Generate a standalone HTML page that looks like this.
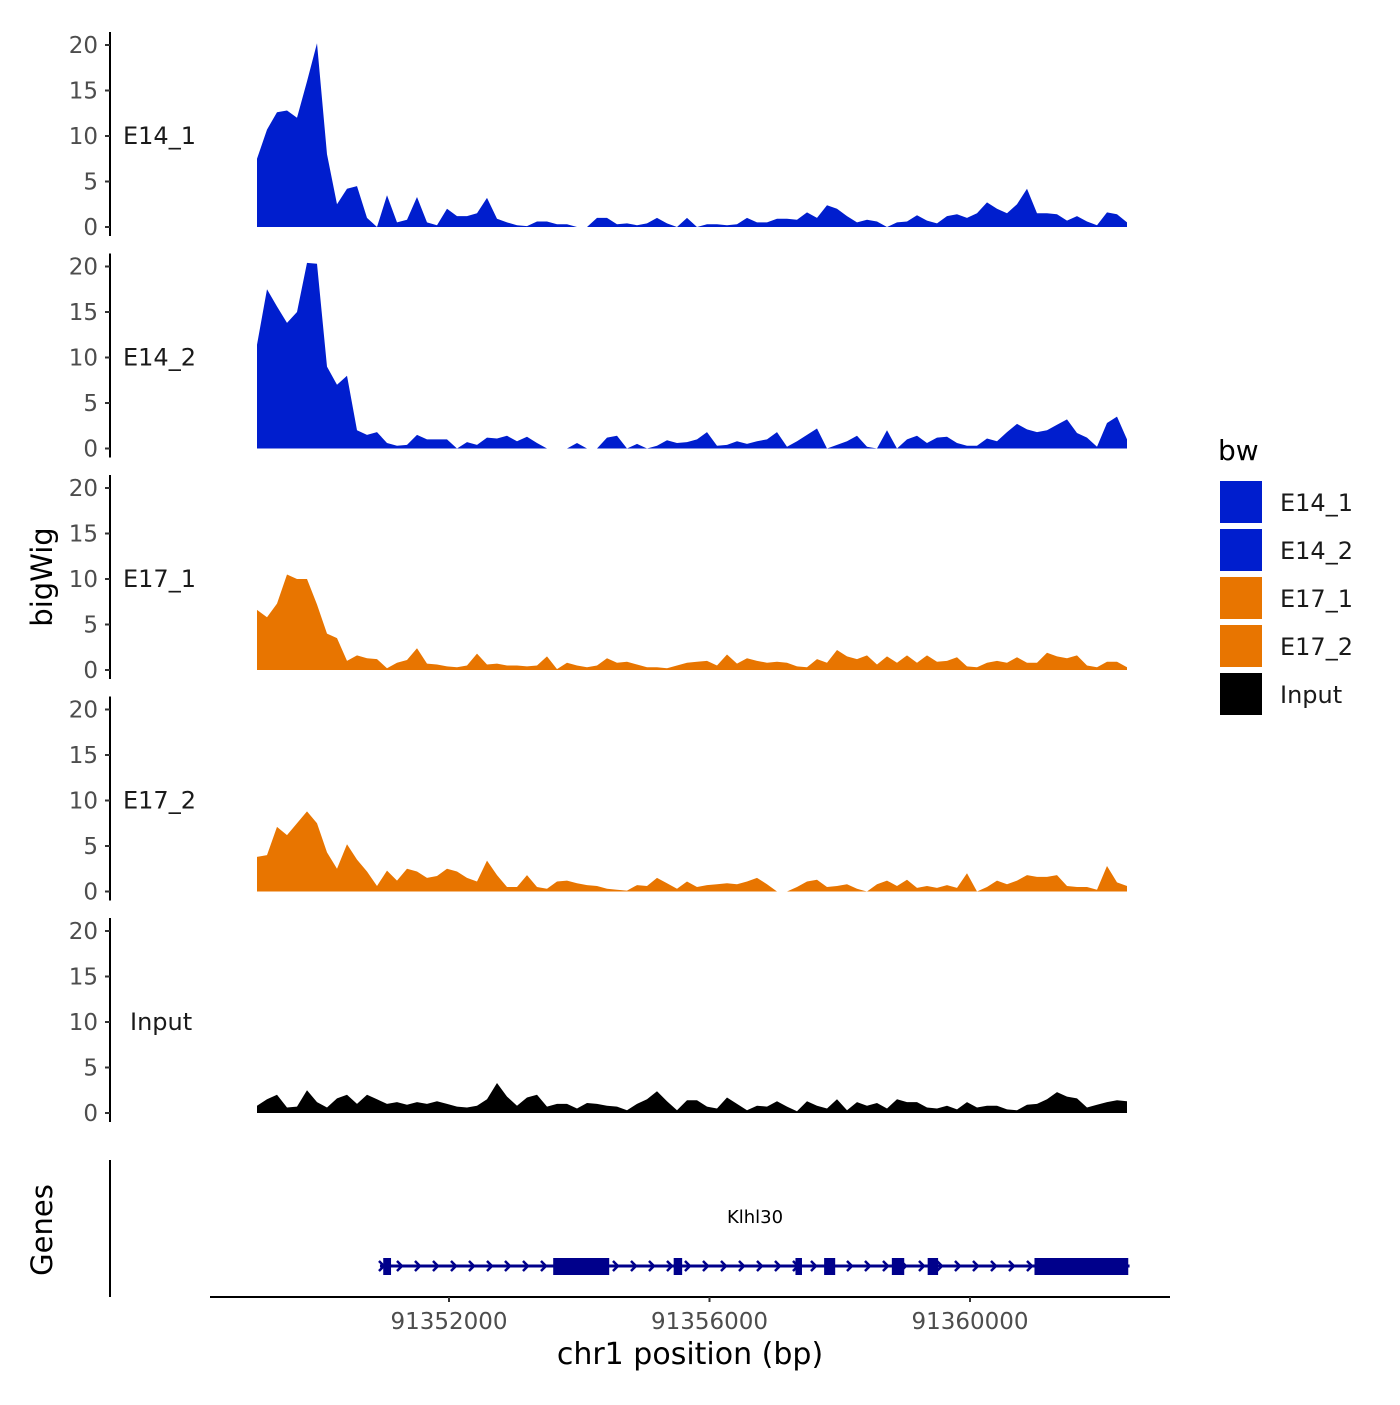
<!DOCTYPE html>
<html><head><meta charset="utf-8"><style>
body{margin:0;background:#fff}
svg text{font-family:"DejaVu Sans","Liberation Sans",sans-serif}
</style></head><body>
<svg id="chart" width="1400" height="1400" viewBox="0 0 1400 1400" xmlns="http://www.w3.org/2000/svg">
<rect width="1400" height="1400" fill="#fff"/>
<g id="panels"></g>
<g id="genes"></g>
<g id="xaxis"></g>
<g id="legend"></g>
<text x="0" y="0" transform="translate(52,577) rotate(-90)" text-anchor="middle" font-size="29" fill="#000">bigWig</text>
<text x="0" y="0" transform="translate(52,1230) rotate(-90)" text-anchor="middle" font-size="29" fill="#000">Genes</text>
<text x="690" y="1364" text-anchor="middle" font-size="30" fill="#000">chr1 position (bp)</text>
</svg>
<script>
const trackNames = ["E14_1","E14_2","E17_1","E17_2","Input"];
const trackColors = ["#001ECE","#001ECE","#E87500","#E87500","#000000"];
const startBp = 91349052;
const stepBp = 153.55;
const yTicks = [0,5,10,15,20];
const xTicks = [91352000,91356000,91360000];
const e14_1 = [7.5,10.7,12.6,12.8,12,16,20.2,8,2.5,4.2,4.5,1,0,3.5,0.5,0.8,3.3,0.5,0.2,2,1.2,1.2,1.5,3.2,0.9,0.5,0.2,0.1,0.6,0.6,0.3,0.3,0,0,1,1,0.3,0.4,0.2,0.4,1,0.4,0,1,0,0.3,0.3,0.2,0.3,1,0.5,0.5,0.9,0.9,0.8,1.6,1.0,2.4,2.0,1.2,0.5,0.8,0.6,0,0.5,0.6,1.3,0.7,0.4,1.2,1.4,1.0,1.5,2.7,2.0,1.5,2.5,4.2,1.5,1.5,1.4,0.7,1.2,0.6,0.2,1.6,1.4,0.5];
const e14_2 = [11.4,17.5,15.6,13.8,15,20.4,20.3,9,7,8,2,1.5,1.8,0.6,0.3,0.4,1.5,1.0,1.0,1.0,0,0.7,0.4,1.2,1.1,1.4,0.8,1.3,0.6,0,0,0,0.6,0,0,1.2,1.4,0,0.5,0,0.3,0.9,0.6,0.7,1.0,1.8,0.3,0.4,0.8,0.5,0.8,1.0,1.8,0.2,0.8,1.5,2.2,0,0.4,0.8,1.4,0.2,0,2.0,0,1.0,1.4,0.6,1.2,1.3,0.6,0.3,0.3,1.1,0.8,1.8,2.7,2.1,1.8,2.0,2.6,3.2,1.7,1.2,0.2,2.8,3.5,1.0];
const e17_1 = [6.6,5.8,7.3,10.5,10.0,10.0,7.2,4.0,3.5,1.0,1.6,1.3,1.2,0.2,0.8,1.1,2.4,0.7,0.6,0.4,0.3,0.5,1.8,0.6,0.7,0.5,0.5,0.4,0.5,1.5,0.1,0.8,0.5,0.3,0.5,1.3,0.8,0.9,0.6,0.3,0.3,0.2,0.5,0.8,0.9,1.0,0.5,1.7,0.7,1.3,1.0,0.8,0.9,0.8,0.4,0.3,1.2,0.8,2.2,1.5,1.2,1.6,0.6,1.5,0.8,1.6,0.8,1.6,0.9,1.0,1.4,0.4,0.3,0.8,1.0,0.8,1.4,0.8,0.8,1.9,1.5,1.3,1.6,0.5,0.3,0.9,0.9,0.3];
const e17_2 = [3.8,4.0,7.1,6.2,7.5,8.8,7.5,4.3,2.5,5.2,3.5,2.2,0.6,2.3,1.2,2.5,2.2,1.5,1.7,2.5,2.2,1.5,1.1,3.4,1.8,0.5,0.5,1.8,0.5,0.3,1.1,1.2,0.9,0.7,0.6,0.3,0.2,0.1,0.7,0.6,1.5,0.9,0.3,1.1,0.5,0.7,0.8,0.9,0.8,1.1,1.5,0.8,0,0,0.5,1.1,1.3,0.5,0.6,0.8,0.3,0,0.8,1.2,0.6,1.3,0.4,0.6,0.4,0.7,0.4,2.0,0,0.5,1.2,0.8,1.2,1.8,1.6,1.6,1.8,0.6,0.5,0.5,0.2,2.8,1.0,0.6];
const input = [0.8,1.5,2.0,0.6,0.7,2.5,1.2,0.6,1.6,2.0,1.0,2.0,1.5,1.0,1.2,0.9,1.2,1.0,1.3,1.0,0.7,0.6,0.8,1.5,3.3,1.8,0.8,1.7,2.0,0.7,1.0,1.0,0.5,1.1,1.0,0.8,0.7,0.3,1.0,1.5,2.4,1.3,0.3,1.4,1.4,0.7,0.5,1.7,1.0,0.3,0.8,0.7,1.3,0.7,0.2,1.3,0.8,0.5,1.5,0.3,1.2,0.8,1.1,0.5,1.5,1.2,1.2,0.6,0.5,0.8,0.4,1.2,0.6,0.8,0.8,0.4,0.3,0.9,1.0,1.5,2.3,1.8,1.6,0.6,0.9,1.2,1.4,1.3];
const seriesList = [e14_1,e14_2,e17_1,e17_2,input];
const geneExonStarts = [91350990,91353600,91355450,91357320,91357760,91358800,91359350,91360990];
const geneExonEnds   = [91351110,91354460,91355580,91357420,91357930,91358990,91359510,91362430];
const geneStart = 91350940, geneEnd = 91362450;

const NS="http://www.w3.org/2000/svg";
function el(tag,attrs,parent){const e=document.createElementNS(NS,tag);for(const k in attrs)e.setAttribute(k,attrs[k]);parent.appendChild(e);return e;}
function xScale(bp){return 449+(bp-91352000)*260.5/4000;}
function yScale(v,k){const base=227+221.5*k;return base-v*9.1;}

const panels=document.getElementById('panels');
seriesList.forEach((vals,k)=>{
  const g=el('g',{},panels);
  
  
  const ax=el('line',{x1:110,x2:110,y1:32+221.5*k,y2:236+221.5*k,stroke:'#000','stroke-width':2},g);
  
  
  yTicks.forEach(t=>{
    const y=yScale(t,k);
    const tk=el('line',{x1:105,x2:110,y1:y,y2:y,stroke:'#333','stroke-width':2},g);
    
    
    const tl=el('text',{x:98,y:y+8,'text-anchor':'end','font-size':23,fill:'#4d4d4d'},g);
    tl.textContent=t;
    
    
  });
  const base=yScale(0,k);
  let d='M'+xScale(startBp).toFixed(1)+','+base;
  vals.forEach((v,i)=>{d+=' L'+xScale(startBp+i*stepBp).toFixed(1)+','+yScale(v,k).toFixed(1);});
  d+=' L'+xScale(startBp+(vals.length-1)*stepBp).toFixed(1)+','+base+' Z';
  const area=el('path',{d:d,fill:trackColors[k],'stroke-linejoin':'round'},g);
  
  
  const lab=el('text',{x:trackNames[k]==='Input'?130:123,y:yScale(10,k)+8,'font-size':24,fill:'#1a1a1a'},g);
  lab.textContent=trackNames[k];
  
  
});

// genes
const gg=document.getElementById('genes');
const gax=el('line',{x1:110,x2:110,y1:1160,y2:1297,stroke:'#000','stroke-width':2},gg);


const gl=el('line',{x1:xScale(geneStart),x2:xScale(geneEnd),y1:1266,y2:1266,stroke:'#00008B','stroke-width':3},gg);


for(let x=xScale(geneStart)+2;x<xScale(geneEnd)-4;x+=18){
  const ch=el('path',{d:`M${x-3},1261 L${x+2},1266 L${x-3},1271`,fill:'none',stroke:'#00008B','stroke-width':2.5},gg);
  
  
}
geneExonStarts.forEach((s,i)=>{
  const x1=xScale(s),x2=xScale(geneExonEnds[i]);
  const r=el('rect',{x:x1,y:1258,width:x2-x1,height:17,fill:'#00008B'},gg);
  
  
});
const gn=el('text',{x:755,y:1223,'text-anchor':'middle','font-size':18,fill:'#000'},gg);
gn.textContent='Klhl30';



// x axis
const xa=document.getElementById('xaxis');
const xl=el('line',{x1:210,x2:1170,y1:1297,y2:1297,stroke:'#000','stroke-width':2},xa);


xTicks.forEach(t=>{
  const x=xScale(t);
  const tk=el('line',{x1:x,x2:x,y1:1297,y2:1302,stroke:'#333','stroke-width':2},xa);
  
  
  const tl=el('text',{x:x,y:1329,'text-anchor':'middle','font-size':23,fill:'#4d4d4d'},xa);
  tl.textContent=t;
  
  
});

// legend
const lg=document.getElementById('legend');


const lt=el('text',{x:1218,y:460,'font-size':28,fill:'#000'},lg);
lt.textContent='bw';


trackNames.forEach((n,i)=>{
  const y=480+48*i;
  const r=el('rect',{x:1219,y:y,width:44,height:44,fill:trackColors[i],stroke:'#fff','stroke-width':2},lg);
  
  
  const t=el('text',{x:1280,y:y+31,'font-size':24,fill:'#1a1a1a'},lg);
  t.textContent=n;
  
  
});
</script>
</body></html>
